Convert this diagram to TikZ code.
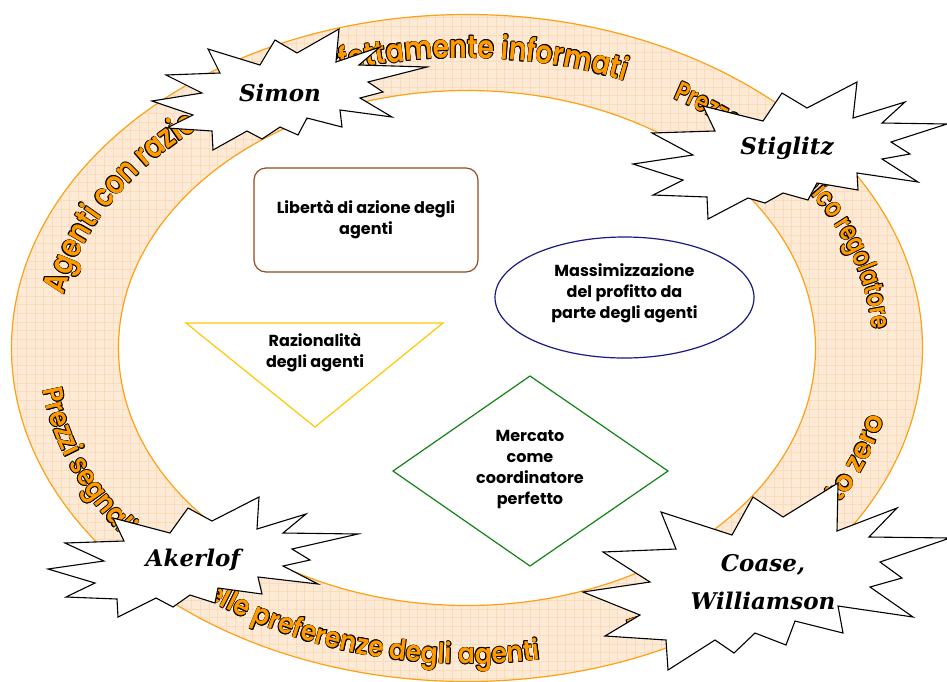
\documentclass[tikz,border=0pt]{standalone}
\usepackage{fontspec}
\usepackage{graphicx}
\usetikzlibrary{decorations.text,shapes.geometric}
\newfontfamily\ringfont{Poppins}[UprightFont={* SemiBold}]
\newfontfamily\boxfont{Poppins}
\newfontfamily\burstfont{DejaVu Serif}

\definecolor{ringorange}{RGB}{255,160,20}
\definecolor{ringfill}{RGB}{253,234,214}
\definecolor{ringgrid}{RGB}{250,219,186}
\definecolor{ringtext}{RGB}{255,153,0}
\definecolor{boxbrown}{RGB}{150,75,30}
\definecolor{ovalnavy}{RGB}{25,25,130}
\definecolor{trigold}{RGB}{255,200,0}
\definecolor{diagreen}{RGB}{20,130,20}

% outlined, vertically stretched glyph for the lettering on the ring
\newlength\olw \setlength\olw{0.6pt}
\def\olys{1.2}
\newcommand\olcopy[3]{\rlap{\kern#1\raisebox{#2}{\textcolor{black}{#3}}}}
\newcommand\olglyph[1]{%
  \olcopy{-\olw}{0pt}{#1}\olcopy{\olw}{0pt}{#1}%
  \olcopy{0pt}{\olw}{#1}\olcopy{0pt}{-\olw}{#1}%
  \olcopy{-.7\olw}{.7\olw}{#1}\olcopy{.7\olw}{.7\olw}{#1}%
  \olcopy{-.7\olw}{-.7\olw}{#1}\olcopy{.7\olw}{-.7\olw}{#1}%
  \textcolor{ringtext}{#1}}
\newcommand\olchar[1]{\scalebox{1}[\olys]{\olglyph{#1}}}

\tikzset{
  ringlabel/.style n args={3}{font=\ringfont\fontsize{#2}{#2}\selectfont\def\olys{#3}, decorate,
    decoration={text effects along path, text={#1},
      text effects/.cd, text along path, character command=\olchar}},
  burst/.style={draw=black, fill=white, line width=1.1pt, line join=miter},
  burstlabel/.style={font=\burstfont\bfseries\itshape\fontsize{23}{38}\selectfont, align=center, inner sep=0pt},
  boxtext/.style={font=\boxfont\bfseries\fontsize{16}{21}\selectfont, align=center, inner sep=0pt},
}

\begin{document}
\begin{tikzpicture}[x=1pt, y=-1pt]
\useasboundingbox (0,0) rectangle (947,681);
\clip (0,0) rectangle (947,681);

% ring band with its light grid
\fill[ringfill] (467,348) ellipse [x radius=455.5, y radius=333.5];
\begin{scope}
  \clip (467,348) ellipse [x radius=455.5, y radius=333.5];
  \foreach \gx in {0,8.7,...,947} \draw[ringgrid, line width=0.6pt] (\gx,0) -- (\gx,681);
  \foreach \gy in {0,8.7,...,681} \draw[ringgrid, line width=0.6pt] (0,\gy) -- (947,\gy);
\end{scope}
\fill[white] (467,348) ellipse [x radius=348.5, y radius=257.5];
\draw[ringorange, line width=1.2pt] (467,348) ellipse [x radius=455.5, y radius=333.5];
\draw[ringorange, line width=1.2pt] (467,348) ellipse [x radius=348.5, y radius=257.5];

% lettering along the ring
\path[ringlabel={Agenti~con~razionalità~e~perfettamente~informati}{26.8}{1.2}]
  (465,348) ++(-169.5:408 and 290) arc[start angle=-169.5, end angle=-55, x radius=408, y radius=290];
\path[ringlabel={Prezzo~come~unico~regolatore}{21.3}{1.28}]
  (465,348) ++(-59.3:408 and 290) arc[start angle=-59.3, end angle=12, x radius=408, y radius=290];
\path[ringlabel={Prezzi~segnali~fedeli~delle~preferenze~degli~agenti}{25.2}{1.12}]
  (467,348) ++(172.4:428 and 316) arc[start angle=172.4, end angle=70, x radius=428, y radius=316];
\path[ringlabel={Transazioni~a~costo~zero}{28.5}{1.0}]
  (467,348) ++(67.3:428 and 316) arc[start angle=67.3, end angle=0, x radius=428, y radius=316];

% inner shapes
\node[boxtext, draw=boxbrown, line width=1.2pt, rounded corners=12pt,
      minimum width=224pt, minimum height=104pt] (liberta) at (366,220)
  {Libertà di azione degli\\agenti};
\node[ellipse, draw=ovalnavy, line width=1.2pt,
      minimum width=259pt, minimum height=121pt] (profitto) at (624.5,297.5) {};
\node[boxtext] (profittotext) at (624.5,293) {Massimizzazione\\del profitto da\\parte degli agenti};
\draw[trigold, line width=1.2pt] (186,323) -- (443,323) -- (315,427) -- cycle;
\node[boxtext] (razionalita) at (315,353) {Razionalità\\degli agenti};
\draw[diagreen, line width=1.2pt] (530,376) -- (668,471) -- (530,566) -- (393,471) -- cycle;
\node[boxtext] (mercato) at (530,470) {Mercato\\come\\coordinatore\\perfetto};

% explosion bursts with the authors
\draw[burst] (208,49) -- (260,65) -- (275,40) -- (297,53) -- (339,29) -- (336,62) -- (380,47)
  -- (359,65) -- (427,67) -- (368,82) -- (383,92) -- (360,98) -- (392,117) -- (340,110)
  -- (342,127) -- (307,118) -- (298,135) -- (280,127) -- (262,139) -- (247,131) -- (213,150)
  -- (212,131) -- (167,128) -- (193,115) -- (152,101) -- (202,93) -- (166,75) -- (220,73) -- cycle;
\node[burstlabel] (simon) at (280,93) {Simon};

\draw[burst] (703,106) -- (763,121) -- (782,93) -- (807,108) -- (857,82) -- (853,118) -- (905,102)
  -- (882,123) -- (947,124) -- (891,142) -- (910,154) -- (882,159) -- (918,182) -- (857,173)
  -- (858,190) -- (817,183) -- (808,200) -- (783,193) -- (765,203) -- (748,198) -- (708,219)
  -- (707,197) -- (653,195) -- (683,180) -- (633,164) -- (693,155) -- (652,133) -- (715,131) -- cycle;
\node[burstlabel] (stiglitz) at (787,148) {Stiglitz};

\draw[burst] (113,518) -- (170,533) -- (188,508) -- (212,521) -- (259,497) -- (257,529) -- (306,514)
  -- (283,533) -- (358,534) -- (292,549) -- (310,560) -- (283,566) -- (318,584) -- (258,577)
  -- (262,594) -- (218,588) -- (215,603) -- (190,595) -- (173,607) -- (156,598) -- (118,617)
  -- (117,599) -- (66,597) -- (95,583) -- (48,569) -- (104,561) -- (65,543) -- (124,541) -- cycle;
\node[burstlabel] (akerlof) at (193,560) {Akerlof};

\draw[burst] (753,497) -- (783,517) -- (838,483) -- (837,531) -- (897,508) -- (869,537) -- (950,538)
  -- (880,562) -- (902,578) -- (870,587) -- (913,617) -- (838,606) -- (843,633) -- (795,621)
  -- (786,645) -- (755,633) -- (734,653) -- (715,640) -- (668,670) -- (666,640) -- (605,636)
  -- (640,615) -- (583,592) -- (650,582) -- (603,552) -- (676,549) -- (661,512) -- (732,535) -- cycle;
\node[burstlabel] (coase) at (763,582) {Coase,\\Williamson};
\end{tikzpicture}
\end{document}
